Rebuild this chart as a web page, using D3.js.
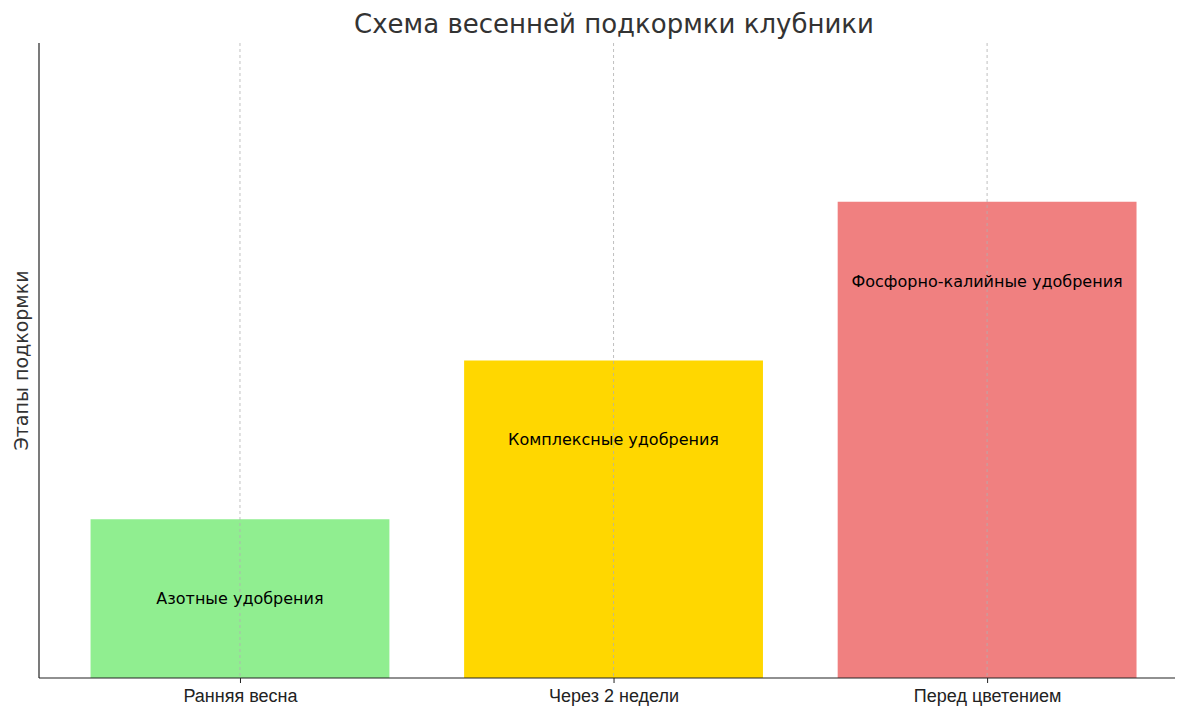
<!DOCTYPE html>
<html><head><meta charset="utf-8">
<script src="https://cdn.jsdelivr.net/npm/d3@7/dist/d3.min.js"></script>
<style>body{margin:0;background:#fff}svg{font-family:"DejaVu Sans",sans-serif}</style>
</head><body><svg id="c" width="1200" height="716"></svg>
<script>
const categories=["Ранняя весна","Через 2 недели","Перед цветением"];
const values=[1,2,3];
const labels=["Азотные удобрения","Комплексные удобрения","Фосфорно-калийные удобрения"];
const colors=["#90ee90","#ffd700","#f08080"];
const svg=d3.select("#c");
const L=39,R=1175,T=43,B=678;
const x=d3.scaleLinear().domain([-0.538,2.503]).range([L,R]);
const y=d3.scaleLinear().domain([0,4]).range([B,T]);
const bw=x(0.8)-x(0);
svg.selectAll(".bar").data(values).enter().append("rect")
 .attr("x",(d,i)=>x(i)-bw/2).attr("width",bw)
 .attr("y",d=>y(d)).attr("height",d=>B-y(d)).attr("fill",(d,i)=>colors[i]);
svg.selectAll(".grid").data(categories).enter().append("line")
 .attr("x1",(d,i)=>x(i)).attr("x2",(d,i)=>x(i)).attr("y1",T).attr("y2",B)
 .attr("stroke","#b0b0b0").attr("stroke-width",0.8).attr("stroke-dasharray","3,3");
svg.selectAll(".lab").data(labels).enter().append("text")
 .attr("x",(d,i)=>x(i)).attr("y",(d,i)=>y(values[i]-0.5)).attr("dy","0.35em")
 .attr("text-anchor","middle").attr("font-size",16).attr("fill","#000").text(d=>d);
const xa=d3.axisBottom(x).tickValues([0,1,2]).tickFormat(i=>categories[i]).tickSize(5).tickSizeOuter(0);
const g=svg.append("g").attr("transform",`translate(0,${B})`).call(xa);
g.select(".domain").remove();
g.selectAll("text").attr("font-size",18).attr("fill","#222").attr("dy","0.9em");
g.selectAll("line").attr("stroke","#222");
svg.append("line").attr("x1",L).attr("x2",R).attr("y1",B).attr("y2",B).attr("stroke","#222").attr("stroke-width",1.2);
svg.append("line").attr("x1",L).attr("x2",L).attr("y1",T).attr("y2",B).attr("stroke","#222").attr("stroke-width",1.2);
svg.append("text").attr("x",614).attr("y",33).attr("text-anchor","middle").attr("font-size",26).attr("fill","#333").text("Схема весенней подкормки клубники");
svg.append("text").attr("transform",`translate(28,${(T+B)/2}) rotate(-90)`).attr("text-anchor","middle").attr("font-size",19).attr("fill","#333").text("Этапы подкормки");
</script></body></html>
